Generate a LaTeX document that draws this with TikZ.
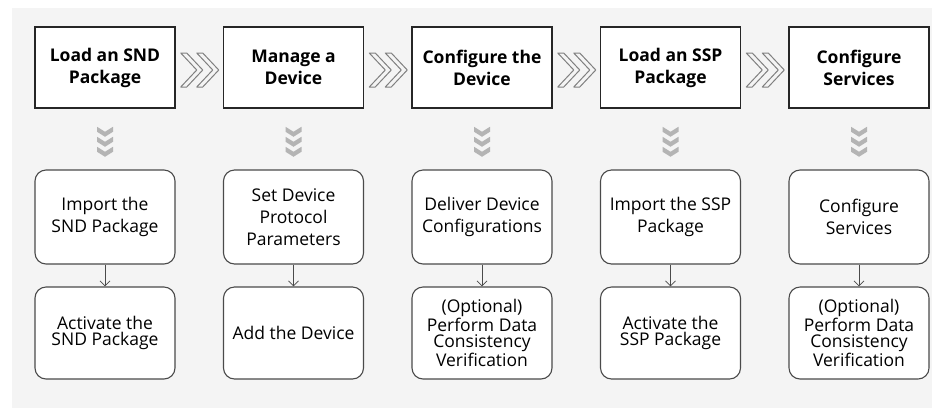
\documentclass[tikz,border=0pt]{standalone}
\usepackage{fontspec}
\setmainfont{Open Sans}
\usetikzlibrary{arrows.meta}
\definecolor{bggray}{HTML}{F4F4F4}
\definecolor{chevgray}{HTML}{808080}
\definecolor{vchev}{HTML}{B4B4B4}
\definecolor{boxline}{HTML}{4A4A4A}
\begin{document}
\begin{tikzpicture}[x=1pt,y=-1pt,
  topbox/.style={draw=black!85, line width=1.5pt, fill=white, minimum width=140pt,
    minimum height=81pt, inner sep=0pt, align=center,
    font=\bfseries\fontsize{17.5}{22}\selectfont},
  subbox/.style={draw=boxline, line width=1.1pt, fill=white, rounded corners=11pt,
    minimum width=140pt, inner sep=0pt, align=center,
    font=\fontsize{17.5}{22}\selectfont},
  rowa/.style={minimum height=94pt},
  rowb/.style={minimum height=92pt},
  tight/.style={font=\fontsize{17.5}{16.5}\selectfont},
  flow/.style={draw=boxline, line width=0.8pt, -{Straight Barb[length=5pt,width=10pt]}},
  hchev/.style={draw=chevgray, line width=1pt, line join=round},
  vchevs/.style={fill=vchev, draw=none}
]
\useasboundingbox (0,0) rectangle (933,408);
\fill[white] (0,0) rectangle (933,408);
\fill[bggray] (12,8) rectangle (932,408);

% top row
\node[topbox] (t1) at (105,67.5) {Load an SND\\Package};
\node[topbox] (t2) at (293.5,67.5) {Manage a\\Device};
\node[topbox] (t3) at (482,67.5) {Configure the\\Device};
\node[topbox] (t4) at (670.5,67.5) {Load an SSP\\Package};
\node[topbox] (t5) at (859,67.5) {Configure\\Services};

% first sub row
\node[subbox,rowa] (a1) at (105,217) {Import the\\SND Package};
\node[subbox,rowa] (a2) at (293.5,217) {Set Device\\Protocol\\Parameters};
\node[subbox,rowa] (a3) at (482,217) {Deliver Device\\Configurations};
\node[subbox,rowa] (a4) at (670.5,217) {Import the SSP\\Package};
\node[subbox,rowa] (a5) at (859,217) {Configure\\Services};

% second sub row
\node[subbox,rowb,tight] (b1) at (105,333) {Activate the\\SND Package};
\node[subbox,rowb] (b2) at (293.5,333) {Add the Device};
\node[subbox,rowb,tight] (b3) at (482,333) {(Optional)\\Perform Data\\Consistency\\Verification};
\node[subbox,rowb,tight] (b4) at (670.5,333) {Activate the\\SSP Package};
\node[subbox,rowb,tight] (b5) at (859,333) {(Optional)\\Perform Data\\Consistency\\Verification};

% connectors
\foreach \i in {1,...,5}{
  \draw[flow] (a\i.south) -- (b\i.north);
  % vertical chevrons
  \foreach \k in {0,1,2}{
    \fill[vchevs, shift={(t\i.south)}, yshift={-(18+10*\k)*1pt}]
      (-8,0) -- (0,5) -- (8,0) -- (8,5) -- (0,10) -- (-8,5) -- cycle;
  }
}
% horizontal double chevrons
\foreach \i in {1,2,3,4}{
  \foreach \k in {0,16}{
    \draw[hchev, shift={(t\i.east)}, xshift={(5+\k)*1pt}, yshift={-2.5pt}]
      (0,-17) -- (6,-17) -- (22,0) -- (6,17) -- (0,17) -- (16,0) -- cycle;
  }
}
\end{tikzpicture}
\end{document}
